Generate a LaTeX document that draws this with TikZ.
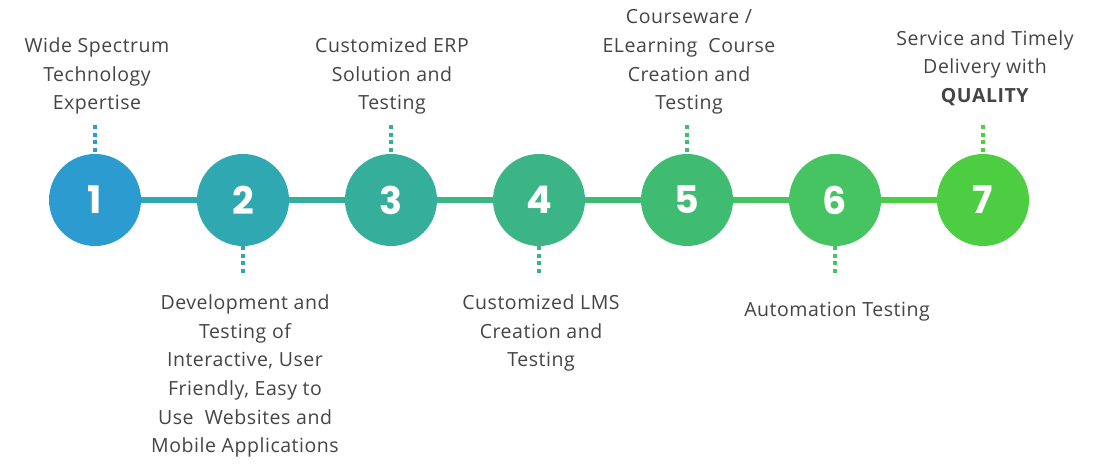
\documentclass[tikz,border=0pt]{standalone}
\usepackage{fontspec}
\setmainfont{Open Sans}[LetterSpace=2.8]
\newfontfamily\numfont{Poppins}
\definecolor{cA}{HTML}{2B9BD0}
\definecolor{cB}{HTML}{30A8B2}
\definecolor{cC}{HTML}{36AE9C}
\definecolor{cD}{HTML}{3BB586}
\definecolor{cE}{HTML}{40BC72}
\definecolor{cF}{HTML}{46C462}
\definecolor{cG}{HTML}{4DCD42}
\definecolor{txt}{HTML}{454545}
\begin{document}
\begin{tikzpicture}[x=1pt,y=-1pt,
  stepcircle/.style={circle,minimum size=92pt,inner sep=0pt,fill=#1,text=white,font=\numfont\bfseries\fontsize{38}{40}\selectfont},
  label/.style={text=txt,align=center,font=\fontsize{19.5}{28.7}\selectfont,inner sep=0pt},
  link/.style={line width=5.5pt,draw=#1},
  dots/.style={line width=4pt,draw=#1,dash pattern=on 4pt off 3.5pt}]
\fill[white] (0,0) rectangle (1094,468);
\useasboundingbox (0,0) rectangle (1094,468);
\node[stepcircle=cA] (n1) at (95,200) {1};
\node[stepcircle=cB] (n2) at (243,200) {2};
\node[stepcircle=cC] (n3) at (391,200) {3};
\node[stepcircle=cD] (n4) at (539,200) {4};
\node[stepcircle=cE] (n5) at (687,200) {5};
\node[stepcircle=cF] (n6) at (835,200) {6};
\node[stepcircle=cG] (n7) at (983,200) {7};
\draw[link=cB] (n1.east) -- (n2.west);
\draw[link=cC] (n2.east) -- (n3.west);
\draw[link=cD] (n3.east) -- (n4.west);
\draw[link=cE] (n4.east) -- (n5.west);
\draw[link=cF] (n5.east) -- (n6.west);
\draw[link=cG] (n6.east) -- (n7.west);
% dotted leaders
\coordinate (t1) at (95,125); \coordinate (t3) at (391,125);
\coordinate (t5) at (687,125); \coordinate (t7) at (983,125);
\coordinate (b2) at (243,276); \coordinate (b4) at (539,276);
\coordinate (b6) at (835,276);
\draw[dots=cA] (t1) -- (n1.north);
\draw[dots=cC] (t3) -- (n3.north);
\draw[dots=cE] (t5) -- (n5.north);
\draw[dots=cG] (t7) -- (n7.north);
\draw[dots=cB] (n2.south) -- (b2);
\draw[dots=cD] (n4.south) -- (b4);
\draw[dots=cF] (n6.south) -- (b6);
% labels
\node[label] (l1) at (97,76) {Wide Spectrum\\Technology\\Expertise};
\node[label] (l3) at (392,76) {Customized ERP\\Solution and\\Testing};
\node[label] (l5) at (689,62) {Courseware /\\ELearning\ \ Course\\Creation and\\Testing};
\node[label] (l7) at (985,68) {Service and Timely\\Delivery with\\\textbf{QUALITY}};
\node[label] (l2) at (245,376) {Development and\\Testing of\\Interactive, User\\Friendly, Easy to\\Use\ \ Websites and\\Mobile Applications};
\node[label] (l4) at (541,333) {Customized LMS\\Creation and\\Testing};
\node[label] (l6) at (837,312) {Automation Testing};
\end{tikzpicture}
\end{document}
